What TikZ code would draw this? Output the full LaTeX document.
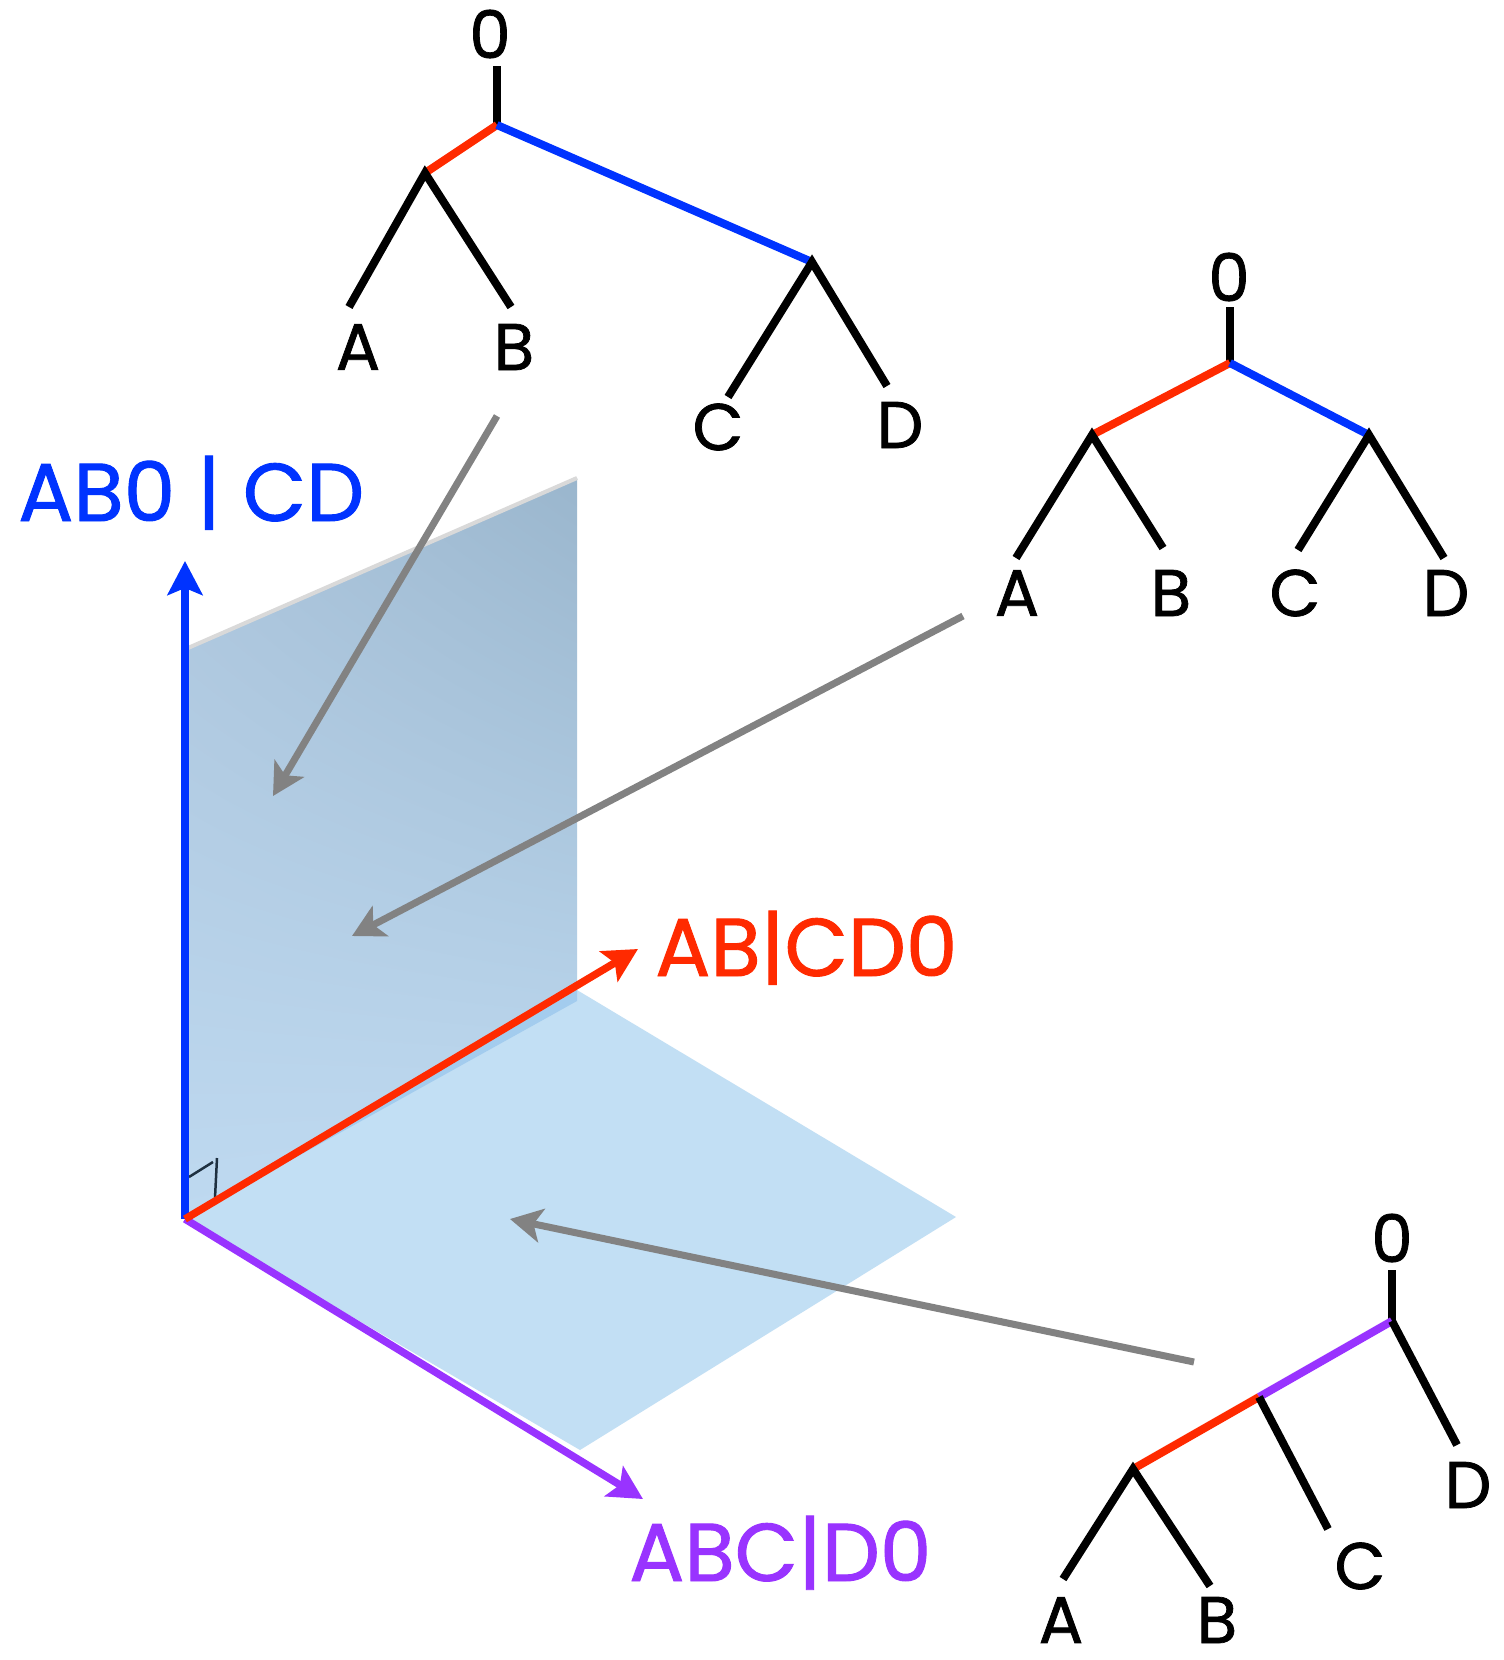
\documentclass[tikz,border=0pt]{standalone}
\usepackage{fontspec}
\setmainfont{Poppins}
\newfontfamily\lblfont{Poppins}[FakeBold=1.1]
\usetikzlibrary{arrows.meta,shadings}
\definecolor{axblue}{HTML}{0033FF}
\definecolor{axred}{HTML}{FF2A00}
\definecolor{axpurple}{HTML}{9933FF}
\definecolor{planeH}{HTML}{C2DFF4}
\definecolor{planeStrip}{HTML}{A3CCEE}
\definecolor{arrgray}{HTML}{828282}
\definecolor{ramark}{HTML}{1E3040}
\definecolor{vUL}{RGB}{171,196,219}
\definecolor{vUR}{RGB}{154,182,205}
\definecolor{vLL}{RGB}{190,217,240}
\definecolor{vLR}{RGB}{193,220,243}
\tikzset{
  treeline/.style={line width=8pt, black},
  redline/.style={line width=8pt, axred},
  blueline/.style={line width=8pt, axblue},
  purpleline/.style={line width=8pt, axpurple},
  leaflabel/.style={font=\lblfont\fontsize{66}{66}\selectfont, inner sep=0pt, anchor=center},
  axislabel/.style={font=\lblfont\fontsize{82}{82}\selectfont, inner sep=0pt, anchor=base west},
  axisarrow/.style={line width=7.5pt, -{Stealth[length=34pt, width=35pt, inset=7pt]}},
  grayarrow/.style={line width=7pt, arrgray, -{Stealth[length=32pt, width=34pt, inset=8pt]}},
}
\begin{document}
\begin{tikzpicture}[x=1pt, y=-1pt]
\useasboundingbox (0,0) rectangle (1504,1660);
\fill[white] (0,0) rectangle (1504,1660);

% planes
\coordinate (O) at (185,1219);
\coordinate (VBL) at (188,1217);
\coordinate (VTL) at (188,648);
\coordinate (VTR) at (577,478);
\coordinate (VBR) at (577,990);
\coordinate (HR) at (956,1217);
\coordinate (HB) at (580,1450);
\fill[planeH] (O) -- (VBR) -- (HR) -- (HB) -- cycle;
\shade[lower left=vLL, lower right=vLR, upper right=vUR, upper left=vUL]
  (VBL) -- (VTL) -- (VTR) -- (VBR) -- cycle;
\fill[planeStrip] (VBR) -- (577,1001) -- (O) -- cycle;
\draw[line width=4pt, gray!30] (VTL) -- (VTR);

% right angle mark
\coordinate (ra1) at (189,1177);
\coordinate (ra2) at (213,1162);
\coordinate (ra3) at (217,1158);
\coordinate (ra4) at (215,1198);
\draw[line width=2.5pt, ramark] (ra1) -- (ra2);
\draw[line width=2.5pt, ramark] (ra3) -- (ra4);

% axes
\coordinate (Ytip) at (185,561);
\coordinate (Rtip) at (638,949);
\coordinate (Ptip) at (643,1499);
\draw[axisarrow, axblue] (O) -- (Ytip);
\draw[axisarrow, axpurple] (O) -- (Ptip);
\draw[axisarrow, axred] (O) -- (Rtip);

% axis labels
\node[axislabel, axblue] (lblue) at (18,521) {AB0 | CD};
\node[axislabel, axred] (lred) at (655,976) {AB|CD0};
\node[axislabel, axpurple] (lpurple) at (629,1581) {ABC|D0};

% gray arrows
\coordinate (g1s) at (497,416);
\coordinate (g1e) at (273,796);
\coordinate (g2s) at (963,616);
\coordinate (g2e) at (352,936);
\coordinate (g3s) at (1194,1362);
\coordinate (g3e) at (510,1219);
\draw[grayarrow] (g1s) -- (g1e);
\draw[grayarrow] (g2s) -- (g2e);
\draw[grayarrow] (g3s) -- (g3e);

% tree 1
\coordinate (t1top) at (497,66);
\coordinate (t1r) at (497,125);
\coordinate (t1L) at (425,173);
\coordinate (t1R) at (812,262);
\coordinate (t1A) at (349,307);
\coordinate (t1B) at (511,307);
\coordinate (t1C) at (728,397);
\coordinate (t1D) at (887,386);
\draw[treeline] (t1top) -- (t1r);
\draw[redline] (t1r) -- (t1L);
\draw[blueline] (t1r) -- (t1R);
\draw[treeline] (t1A) -- (t1L) -- (t1B);
\draw[treeline] (t1C) -- (t1R) -- (t1D);
\node[leaflabel] (n1o) at (490,34) {0};
\node[leaflabel] (n1a) at (358,347) {A};
\node[leaflabel] (n1b) at (514,347) {B};
\node[leaflabel] (n1c) at (718,427) {C};
\node[leaflabel] (n1d) at (900,425) {D};

% tree 2
\coordinate (t2top) at (1230,307);
\coordinate (t2r) at (1230,363);
\coordinate (t2L) at (1092,435);
\coordinate (t2R) at (1369,435);
\coordinate (t2A) at (1016,558);
\coordinate (t2B) at (1163,548);
\coordinate (t2C) at (1298,550);
\coordinate (t2D) at (1444,558);
\draw[treeline] (t2top) -- (t2r);
\draw[redline] (t2r) -- (t2L);
\draw[blueline] (t2r) -- (t2R);
\draw[treeline] (t2A) -- (t2L) -- (t2B);
\draw[treeline] (t2C) -- (t2R) -- (t2D);
\node[leaflabel] (n2o) at (1229,277) {0};
\node[leaflabel] (n2a) at (1017,593) {A};
\node[leaflabel] (n2b) at (1171,593) {B};
\node[leaflabel] (n2c) at (1295,593) {C};
\node[leaflabel] (n2d) at (1446,593) {D};

% tree 3
\coordinate (t3top) at (1392,1270);
\coordinate (t3r) at (1392,1321);
\coordinate (t3M) at (1259,1397);
\coordinate (t3L) at (1133,1469);
\coordinate (t3A) at (1063,1579);
\coordinate (t3B) at (1210,1586);
\coordinate (t3C) at (1328,1529);
\coordinate (t3D) at (1457,1445);
\draw[treeline] (t3top) -- (t3r);
\draw[purpleline] (t3r) -- (t3M);
\draw[redline] (t3M) -- (t3L);
\draw[treeline] (t3r) -- (t3D);
\draw[treeline] (t3M) -- (t3C);
\draw[treeline] (t3A) -- (t3L) -- (t3B);
\node[leaflabel] (n3o) at (1392,1238) {0};
\node[leaflabel] (n3a) at (1061,1620) {A};
\node[leaflabel] (n3b) at (1217,1620) {B};
\node[leaflabel] (n3c) at (1360,1566) {C};
\node[leaflabel] (n3d) at (1468,1485) {D};
\end{tikzpicture}
\end{document}
